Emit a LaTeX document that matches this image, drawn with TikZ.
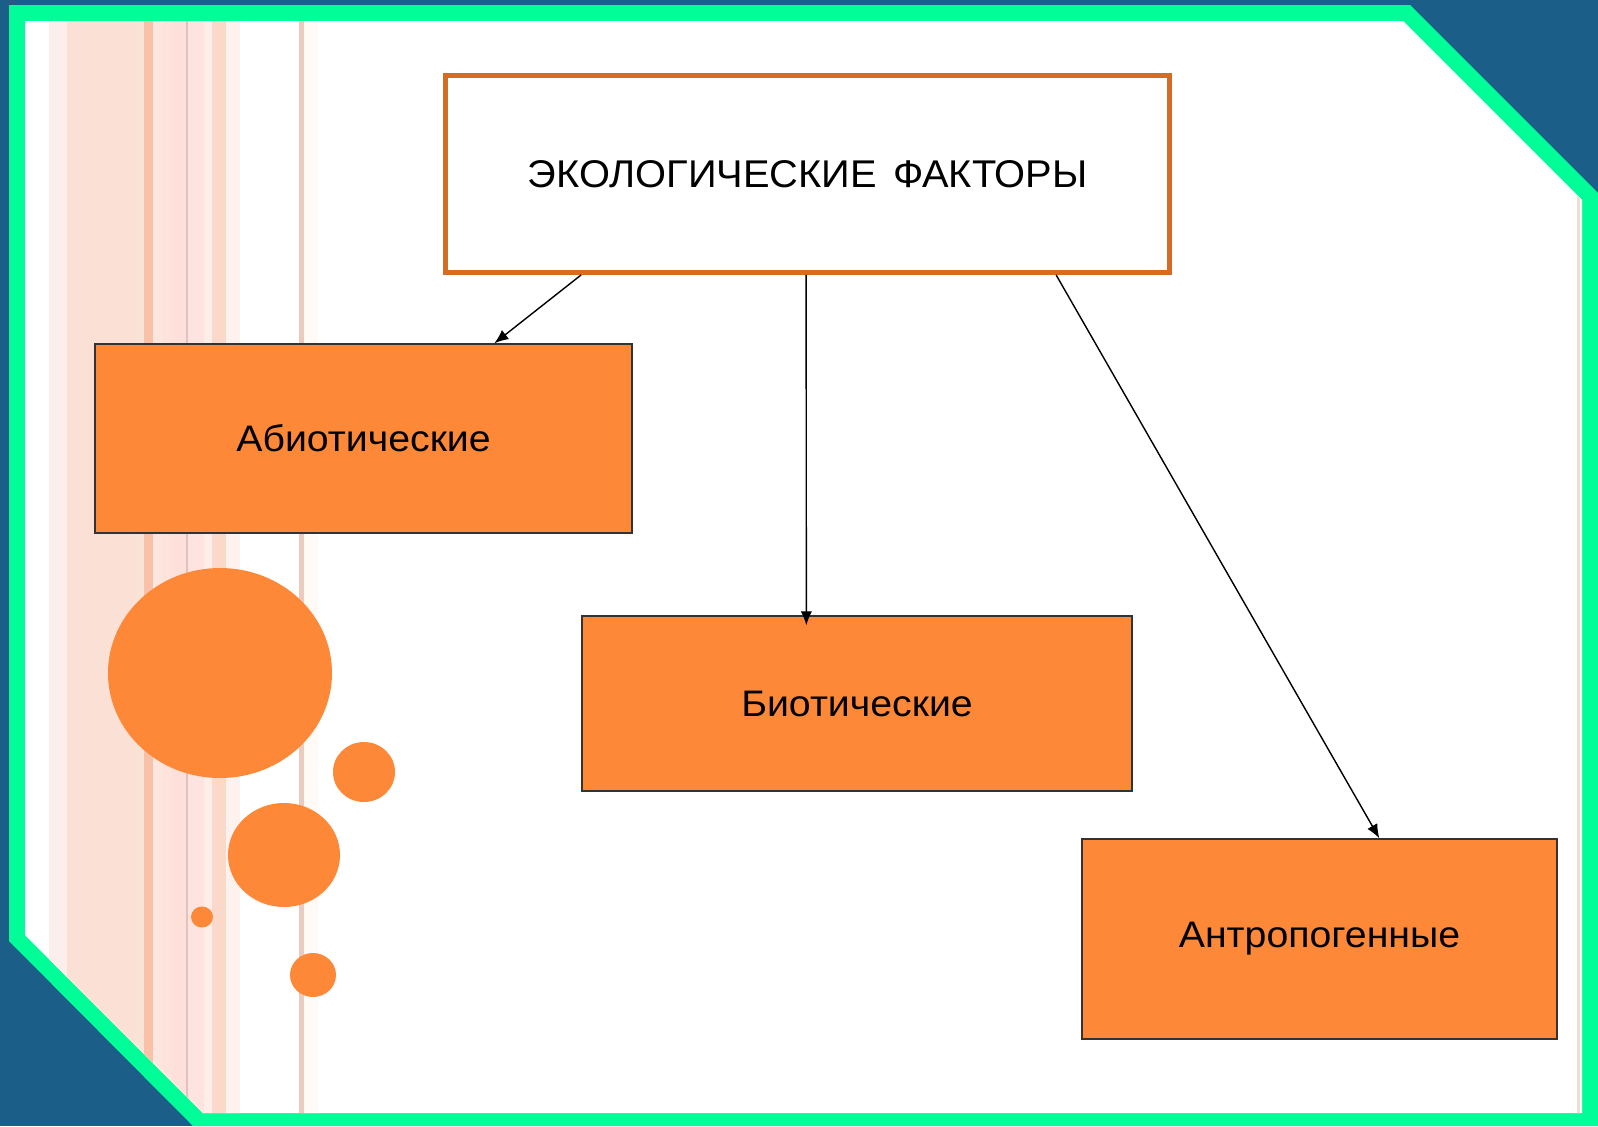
\documentclass[tikz,border=0pt]{standalone}
\usepackage{fontspec}
\setmainfont{Liberation Sans}
\usepackage{graphicx}
\usetikzlibrary{arrows.meta,calc}
\definecolor{frameblue}{RGB}{27,95,136}
\definecolor{framegreen}{RGB}{0,253,152}
\definecolor{boxorange}{RGB}{253,136,56}
\definecolor{topedge}{RGB}{212,108,36}
\newcommand{\wide}[1]{\scalebox{1.064}[1]{#1}}
\tikzset{
  factor/.style={draw=black!80, line width=0.8pt, fill=boxorange, inner sep=0pt,
    font=\fontsize{21}{25}\selectfont},
  conn/.style={line width=0.8pt, -{Latex[length=8pt,width=6.5pt]}},
  bubble/.style={fill=boxorange, draw=none}
}
\begin{document}
\begin{tikzpicture}[x=0.02cm, y=-0.02cm]
\useasboundingbox (0,0) rectangle (1598,1126);
%% Frame
\fill[frameblue] (0,0) rectangle (1598,1126);
\fill[framegreen] (9,5)--(1410,5)--(1598,193)--(1598,1126)--(193,1126)--(9,941)--cycle;
\fill[white] (25,21)--(1403,21)--(1582,200)--(1582,1113)--(203,1113)--(25,935)--cycle;
%% Stripes
\begin{scope}
\clip (25,21)--(1403,21)--(1582,200)--(1582,1113)--(203,1113)--(25,935)--cycle;
\foreach \xa/\xb/\col in {49/67/FCEEEA, 67/135/FBE0D5, 135/144/F9E2D6, 144/153/F9C2A8,
  153/163/FCE6DD, 163/172/FDE3DC, 172/186/FDE0DA, 186/187.5/E2C2BE, 187.5/204/FDE4E0,
  204/212/FEEDE9, 212/226/FAD9CB, 226/240/FEF2EF, 299/304/EBCBBD, 304/318/FFFAF5,
  1577/1580/F2DDD0}{
  \definecolor{stripe}{HTML}{\col}
  \fill[stripe] (\xa,0) rectangle (\xb,1126);
}
\end{scope}
%% Bubbles
\fill[bubble] (220,673) ellipse [x radius=112, y radius=105];
\fill[bubble] (364,772) ellipse [x radius=31, y radius=30];
\fill[bubble] (284,855) ellipse [x radius=56, y radius=52];
\fill[bubble] (202,917) ellipse [x radius=11, y radius=10.5];
\fill[bubble] (313,975) ellipse [x radius=23, y radius=22];
%% Boxes
\node[draw=topedge, line width=2.8pt, fill=white, inner sep=0pt,
  minimum width=14.48cm, minimum height=3.94cm, font=\fontsize{22}{26}\selectfont]
  (eco) at (807.5,174) {\scalebox{1.03}[1]{ЭКОЛОГИЧЕСКИЕ\hspace{0.4em}ФАКТОРЫ}};
\node[factor, minimum width=10.74cm, minimum height=3.78cm] (abio) at (363.5,438.5) {\wide{Абиотические}};
\node[factor, minimum width=11cm, minimum height=3.5cm] (bio) at (857,703.5) {\wide{Биотические}};
\node[factor, minimum width=9.5cm, minimum height=4cm] (anthro) at (1319.5,939) {\wide{Антропогенные}};
%% Arrows
\draw[conn] ($(eco.south west)+(138,0)$) -- ($(abio.north west)+(400,0)$);
\draw[conn] ($(eco.south west)+(363,0)$) -- ($(bio.north west)+(225,10)$);
\draw[conn] ($(eco.south west)+(613,0)$) -- ($(anthro.north west)+(298,0)$);
\end{tikzpicture}
\end{document}
